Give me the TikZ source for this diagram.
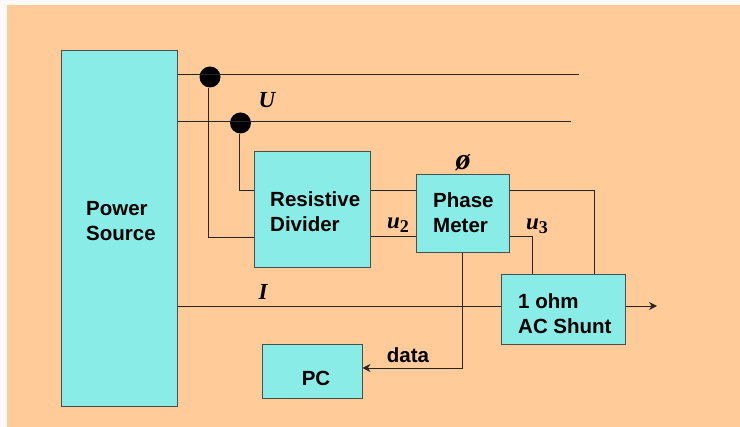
\documentclass[tikz,border=0pt]{standalone}
\usepackage{fontspec}
\usepackage{xcolor}
\setmainfont{Liberation Sans}
\newfontfamily\symbolfont{Liberation Serif}
\usetikzlibrary{arrows.meta,shapes.geometric}
\definecolor{pagewhite}{RGB}{255,250,250}
\definecolor{slideorange}{RGB}{255,204,153}
\definecolor{blockcyan}{RGB}{137,236,230}
\definecolor{blockedge}{RGB}{70,80,80}
\tikzset{
  blockbox/.style={draw=blockedge, fill=blockcyan, line width=1pt, inner sep=0pt},
  boxtext/.style={font=\fontsize{20.5}{25}\selectfont\bfseries, align=left, anchor=west, inner sep=0pt},
  signaltext/.style={font=\fontsize{23}{24}\selectfont\symbolfont\bfseries\itshape, inner sep=0pt},
  tapdot/.style={circle, fill=black, minimum size=21pt, inner sep=0pt},
  wire/.style={line width=0.9pt, black!85}
}
\newcommand{\subdigit}[1]{\raisebox{-4pt}{\fontsize{18}{18}\selectfont\upshape #1}}

\begin{document}
\begin{tikzpicture}[x=1pt, y=-1pt]
  \fill[pagewhite] (0,0) rectangle (740,427);
  \fill[slideorange] (7,5) rectangle (740,427);
  % blocks
  \node[blockbox, minimum width=116pt, minimum height=356pt] (source) at (119,229) {};
  \node[blockbox, minimum width=116pt, minimum height=116pt] (divider) at (312,210) {};
  \node[blockbox, minimum width=93pt, minimum height=78pt] (meter) at (462.5,214) {};
  \node[blockbox, minimum width=124pt, minimum height=70pt] (shunt) at (563,310) {};
  \node[blockbox, minimum width=100pt, minimum height=54pt] (pc) at (312,372) {};
  \node[boxtext] (sourcetext) at (86,221) {Power\\Source};
  \node[boxtext] (dividertext) at (270,212) {Resistive\\Divider};
  \node[boxtext] (metertext) at (433,213) {Phase\\Meter};
  \node[boxtext] (shunttext) at (518,314) {1 ohm\\AC Shunt};
  \node[boxtext, anchor=center] (pctext) at (316,378) {PC};
  % free ends of the lines
  \coordinate (lineaend) at (579,74.5);
  \coordinate (linebend) at (571,121);
  \coordinate (outend) at (657,306);
  % tap points
  \node[tapdot] (tapa) at (210,77) {};
  \node[tapdot] (tapb) at (240.5,123) {};
  % supply lines
  \draw[wire] (source.east |- lineaend) -- (lineaend);
  \draw[wire] (source.east |- linebend) -- (linebend);
  \draw[wire] ([xshift=-2pt]tapa.south) |- (divider.west |- 0,237);
  \draw[wire] ([xshift=-1.5pt]tapb.south) |- (divider.west |- 0,190.5);
  % between the blocks
  \draw[wire] (divider.east |- 0,190.5) -- (meter.west |- 0,190.5);
  \draw[wire] (divider.east |- 0,236.5) -- (meter.west |- 0,236.5);
  \draw[wire] (meter.east |- 0,190.5) -| (shunt.north -| 594,0);
  \draw[wire] (meter.east |- 0,236.5) -| (shunt.north -| 532,0);
  \draw[wire] (source.east |- 0,306) -- (shunt.west |- 0,306);
  \draw[wire, -{Stealth[length=8pt,width=8pt]}] (shunt.east |- 0,306) -- (outend);
  \draw[wire, -{Stealth[length=8pt,width=8pt]}] (meter.south) |- (pc.east |- 0,368);
  % labels
  \node[signaltext] (ulabel) at (267,100) {U};
  \node[signaltext] (ilabel) at (263,292) {I};
  \node[signaltext, font=\fontsize{30}{30}\selectfont\symbolfont\bfseries\itshape] (phaselabel) at (463,163) {ø};
  \node[signaltext] (utwolabel) at (398,225) {u\subdigit{2}};
  \node[signaltext] (uthreelabel) at (537,226) {u\subdigit{3}};
  \node[boxtext, anchor=center] (datalabel) at (408,355) {data};
\end{tikzpicture}
\end{document}
